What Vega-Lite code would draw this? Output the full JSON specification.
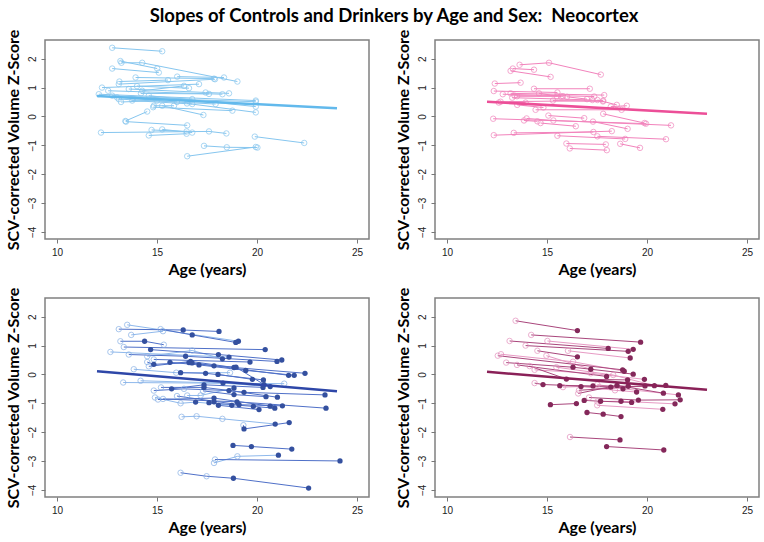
{
"$schema":"https://vega.github.io/schema/vega-lite/v6.json",
"background":"white",
"padding":{"left":4,"top":6,"right":8,"bottom":4},
"title":{"text":"Slopes of Controls and Drinkers by Age and Sex:\u00a0 Neocortex","font":"Lato","fontSize":18.5,"fontWeight":"bold","color":"black","anchor":"middle","offset":3,"dx":12},
"config":{
 "view":{"stroke":"#808080","strokeWidth":1.5},
 "axis":{"domain":false,"grid":false,"tickColor":"#777","tickSize":4,"labelFont":"Liberation Sans","labelFontSize":10,"labelColor":"#222","titleFont":"Lato","titleFontSize":16,"titleFontWeight":"bold","titleColor":"black"},
 "axisY":{"labelAngle":-90,"labelAlign":"center","labelBaseline":"bottom","labelPadding":4,"titlePadding":6},
 "axisX":{"labelPadding":4,"titlePadding":4}
},
"datasets":{
"reg":[
{"p":1,"age":12,"z":0.71},{"p":1,"age":24,"z":0.28},
{"p":2,"age":12,"z":0.51},{"p":2,"age":23,"z":0.09},
{"p":3,"age":12,"z":0.11},{"p":3,"age":24,"z":-0.58},
{"p":4,"age":12,"z":0.09},{"p":4,"age":23,"z":-0.53}
],
"pts":[
{"p":1,"id":"a1","g":"L","ph":"o","age":12.76,"z":2.38},{"p":1,"id":"a1","g":"L","ph":"o","age":15.26,"z":2.26},
{"p":1,"id":"a2","g":"L","ph":"o","age":13.17,"z":1.92},{"p":1,"id":"a2","g":"L","ph":"o","age":15.01,"z":1.66},
{"p":1,"id":"a3","g":"L","ph":"o","age":13.22,"z":1.86},{"p":1,"id":"a3","g":"L","ph":"o","age":14.26,"z":1.86},{"p":1,"id":"a3","g":"L","ph":"o","age":19.02,"z":1.21},
{"p":1,"id":"a4","g":"L","ph":"o","age":12.76,"z":1.66},{"p":1,"id":"a4","g":"L","ph":"o","age":15.09,"z":1.52},
{"p":1,"id":"a5","g":"L","ph":"o","age":13.93,"z":1.35},{"p":1,"id":"a5","g":"L","ph":"o","age":17.85,"z":1.31},
{"p":1,"id":"a6","g":"L","ph":"o","age":16.01,"z":1.38},{"p":1,"id":"a6","g":"L","ph":"o","age":18.35,"z":1.35},
{"p":1,"id":"a7","g":"L","ph":"o","age":13.12,"z":1.21},{"p":1,"id":"a7","g":"L","ph":"o","age":15.55,"z":1.26},
{"p":1,"id":"a8","g":"L","ph":"o","age":12.25,"z":1.0},{"p":1,"id":"a8","g":"L","ph":"o","age":17.1,"z":1.12},
{"p":1,"id":"a9","g":"L","ph":"o","age":13.09,"z":1.12},{"p":1,"id":"a9","g":"L","ph":"o","age":17.9,"z":1.29},
{"p":1,"id":"a10","g":"L","ph":"o","age":13.59,"z":0.95},{"p":1,"id":"a10","g":"L","ph":"o","age":17.43,"z":0.83},{"p":1,"id":"a10","g":"L","ph":"o","age":18.6,"z":0.8},
{"p":1,"id":"a11","g":"L","ph":"o","age":12.09,"z":0.77},{"p":1,"id":"a11","g":"L","ph":"o","age":19.94,"z":0.55},
{"p":1,"id":"a12","g":"L","ph":"o","age":12.56,"z":0.89},{"p":1,"id":"a12","g":"L","ph":"o","age":18.27,"z":0.77},
{"p":1,"id":"a13","g":"L","ph":"o","age":12.76,"z":0.72},{"p":1,"id":"a13","g":"L","ph":"o","age":16.76,"z":0.6},
{"p":1,"id":"a14","g":"L","ph":"o","age":13.0,"z":0.66},{"p":1,"id":"a14","g":"L","ph":"o","age":19.94,"z":0.51},
{"p":1,"id":"a15","g":"L","ph":"o","age":13.09,"z":0.6},{"p":1,"id":"a15","g":"L","ph":"o","age":17.93,"z":0.43},
{"p":1,"id":"a16","g":"L","ph":"o","age":13.76,"z":0.55},{"p":1,"id":"a16","g":"L","ph":"o","age":16.76,"z":0.43},
{"p":1,"id":"a17","g":"L","ph":"o","age":14.84,"z":0.37},{"p":1,"id":"a17","g":"L","ph":"o","age":15.85,"z":0.37},
{"p":1,"id":"a18","g":"L","ph":"o","age":14.81,"z":0.32},{"p":1,"id":"a18","g":"L","ph":"o","age":18.77,"z":0.2},
{"p":1,"id":"a19","g":"L","ph":"o","age":14.26,"z":0.89},{"p":1,"id":"a19","g":"L","ph":"o","age":16.35,"z":1.06},
{"p":1,"id":"a20","g":"L","ph":"o","age":14.59,"z":0.72},{"p":1,"id":"a20","g":"L","ph":"o","age":19.94,"z":0.34},
{"p":1,"id":"a21","g":"L","ph":"o","age":16.5,"z":0.45},{"p":1,"id":"a21","g":"L","ph":"o","age":19.94,"z":0.14},
{"p":1,"id":"a22","g":"L","ph":"o","age":13.42,"z":-0.16},{"p":1,"id":"a22","g":"L","ph":"o","age":14.51,"z":0.17},
{"p":1,"id":"a23","g":"L","ph":"o","age":13.45,"z":-0.18},{"p":1,"id":"a23","g":"L","ph":"o","age":16.51,"z":-0.31},
{"p":1,"id":"a24","g":"L","ph":"o","age":15.26,"z":0.37},{"p":1,"id":"a24","g":"L","ph":"o","age":17.32,"z":0.05},
{"p":1,"id":"a25","g":"L","ph":"o","age":12.2,"z":-0.56},{"p":1,"id":"a25","g":"L","ph":"o","age":17.6,"z":-0.52},{"p":1,"id":"a25","g":"L","ph":"o","age":18.47,"z":-0.59},
{"p":1,"id":"a26","g":"L","ph":"o","age":14.73,"z":-0.47},{"p":1,"id":"a26","g":"L","ph":"o","age":16.48,"z":-0.52},
{"p":1,"id":"a27","g":"L","ph":"o","age":15.26,"z":-0.45},{"p":1,"id":"a27","g":"L","ph":"o","age":16.76,"z":-0.56},
{"p":1,"id":"a28","g":"L","ph":"o","age":14.59,"z":-0.66},{"p":1,"id":"a28","g":"L","ph":"o","age":16.48,"z":-0.6},
{"p":1,"id":"a29","g":"L","ph":"o","age":19.89,"z":-0.7},{"p":1,"id":"a29","g":"L","ph":"o","age":22.36,"z":-0.92},
{"p":1,"id":"a30","g":"L","ph":"o","age":17.35,"z":-1.02},{"p":1,"id":"a30","g":"L","ph":"o","age":18.49,"z":-1.07},{"p":1,"id":"a30","g":"L","ph":"o","age":20.02,"z":-1.08},
{"p":1,"id":"a31","g":"L","ph":"o","age":16.51,"z":-1.38},{"p":1,"id":"a31","g":"L","ph":"o","age":19.94,"z":-1.06},
{"p":1,"id":"a32","g":"L","ph":"o","age":13.2,"z":0.5},{"p":1,"id":"a32","g":"L","ph":"o","age":15.0,"z":0.55},
{"p":1,"id":"a33","g":"L","ph":"o","age":13.8,"z":0.62},{"p":1,"id":"a33","g":"L","ph":"o","age":16.0,"z":0.5},
{"p":1,"id":"a34","g":"L","ph":"o","age":14.0,"z":1.05},{"p":1,"id":"a34","g":"L","ph":"o","age":16.6,"z":0.98},
{"p":1,"id":"a35","g":"L","ph":"o","age":14.2,"z":0.8},{"p":1,"id":"a35","g":"L","ph":"o","age":17.6,"z":0.78},
{"p":2,"id":"b1","g":"L","ph":"o","age":13.63,"z":1.79},{"p":2,"id":"b1","g":"L","ph":"o","age":15.1,"z":1.86},{"p":2,"id":"b1","g":"L","ph":"o","age":17.69,"z":1.45},
{"p":2,"id":"b2","g":"L","ph":"o","age":13.29,"z":1.66},{"p":2,"id":"b2","g":"L","ph":"o","age":14.35,"z":1.62},
{"p":2,"id":"b3","g":"L","ph":"o","age":13.18,"z":1.58},{"p":2,"id":"b3","g":"L","ph":"o","age":15.18,"z":1.37},
{"p":2,"id":"b4","g":"L","ph":"o","age":12.39,"z":1.14},{"p":2,"id":"b4","g":"L","ph":"o","age":13.68,"z":1.17},
{"p":2,"id":"b5","g":"L","ph":"o","age":14.35,"z":0.96},{"p":2,"id":"b5","g":"L","ph":"o","age":17.14,"z":0.96},
{"p":2,"id":"b6","g":"L","ph":"o","age":12.34,"z":0.88},{"p":2,"id":"b6","g":"L","ph":"o","age":15.52,"z":0.83},
{"p":2,"id":"b7","g":"L","ph":"o","age":13.18,"z":0.8},{"p":2,"id":"b7","g":"L","ph":"o","age":17.86,"z":0.74},
{"p":2,"id":"b8","g":"L","ph":"o","age":12.79,"z":0.77},{"p":2,"id":"b8","g":"L","ph":"o","age":17.36,"z":0.69},
{"p":2,"id":"b9","g":"L","ph":"o","age":13.38,"z":0.72},{"p":2,"id":"b9","g":"L","ph":"o","age":15.8,"z":0.7},
{"p":2,"id":"b10","g":"L","ph":"o","age":14.6,"z":0.8},{"p":2,"id":"b10","g":"L","ph":"o","age":15.7,"z":0.69},
{"p":2,"id":"b11","g":"L","ph":"o","age":13.5,"z":0.7},{"p":2,"id":"b11","g":"L","ph":"o","age":15.5,"z":0.7},
{"p":2,"id":"b12","g":"L","ph":"o","age":13.26,"z":0.65},{"p":2,"id":"b12","g":"L","ph":"o","age":17.27,"z":0.57},
{"p":2,"id":"b13","g":"L","ph":"o","age":12.68,"z":0.51},{"p":2,"id":"b13","g":"L","ph":"o","age":17.81,"z":0.55},
{"p":2,"id":"b14","g":"L","ph":"o","age":12.59,"z":0.48},{"p":2,"id":"b14","g":"L","ph":"o","age":13.93,"z":0.48},
{"p":2,"id":"b15","g":"L","ph":"o","age":13.51,"z":0.4},{"p":2,"id":"b15","g":"L","ph":"o","age":14.82,"z":0.31},
{"p":2,"id":"b16","g":"L","ph":"o","age":17.52,"z":0.57},{"p":2,"id":"b16","g":"L","ph":"o","age":18.49,"z":0.4},
{"p":2,"id":"b17","g":"L","ph":"o","age":15.3,"z":0.55},{"p":2,"id":"b17","g":"L","ph":"o","age":17.8,"z":0.52},
{"p":2,"id":"b18","g":"L","ph":"o","age":18.19,"z":0.34},{"p":2,"id":"b18","g":"L","ph":"o","age":18.99,"z":0.37},
{"p":2,"id":"b19","g":"L","ph":"o","age":14.43,"z":0.23},{"p":2,"id":"b19","g":"L","ph":"o","age":18.73,"z":0.23},
{"p":2,"id":"b20","g":"L","ph":"o","age":15.07,"z":0.03},{"p":2,"id":"b20","g":"L","ph":"o","age":16.86,"z":-0.06},
{"p":2,"id":"b21","g":"L","ph":"o","age":17.81,"z":0.09},{"p":2,"id":"b21","g":"L","ph":"o","age":19.87,"z":-0.23},
{"p":2,"id":"b22","g":"L","ph":"o","age":12.31,"z":-0.08},{"p":2,"id":"b22","g":"L","ph":"o","age":19.95,"z":-0.25},
{"p":2,"id":"b23","g":"L","ph":"o","age":13.98,"z":-0.07},{"p":2,"id":"b23","g":"L","ph":"o","age":15.32,"z":-0.14},{"p":2,"id":"b23","g":"L","ph":"o","age":21.2,"z":-0.31},
{"p":2,"id":"b24","g":"L","ph":"o","age":13.85,"z":-0.14},{"p":2,"id":"b24","g":"L","ph":"o","age":14.52,"z":-0.17},
{"p":2,"id":"b25","g":"L","ph":"o","age":14.68,"z":-0.23},{"p":2,"id":"b25","g":"L","ph":"o","age":16.44,"z":-0.34},
{"p":2,"id":"b26","g":"L","ph":"o","age":17.3,"z":-0.18},{"p":2,"id":"b26","g":"L","ph":"o","age":19.03,"z":-0.43},
{"p":2,"id":"b27","g":"L","ph":"o","age":12.34,"z":-0.65},{"p":2,"id":"b27","g":"L","ph":"o","age":18.24,"z":-0.51},
{"p":2,"id":"b28","g":"L","ph":"o","age":13.34,"z":-0.57},{"p":2,"id":"b28","g":"L","ph":"o","age":17.32,"z":-0.54},
{"p":2,"id":"b29","g":"L","ph":"o","age":15.52,"z":-0.67},{"p":2,"id":"b29","g":"L","ph":"o","age":18.91,"z":-0.78},
{"p":2,"id":"b30","g":"L","ph":"o","age":17.52,"z":-0.69},{"p":2,"id":"b30","g":"L","ph":"o","age":20.95,"z":-0.79},
{"p":2,"id":"b31","g":"L","ph":"o","age":15.97,"z":-0.94},{"p":2,"id":"b31","g":"L","ph":"o","age":17.94,"z":-0.97},
{"p":2,"id":"b32","g":"L","ph":"o","age":18.66,"z":-0.95},{"p":2,"id":"b32","g":"L","ph":"o","age":19.65,"z":-1.09},
{"p":2,"id":"b33","g":"L","ph":"o","age":16.14,"z":-1.11},{"p":2,"id":"b33","g":"L","ph":"o","age":17.99,"z":-1.17},
{"p":2,"id":"b34","g":"L","ph":"o","age":16.0,"z":0.68},{"p":2,"id":"b34","g":"L","ph":"o","age":17.0,"z":0.6},
{"p":3,"id":"c1","g":"D","ph":"o","age":13.09,"z":1.57},{"p":3,"id":"c1","g":"D","ph":"f","age":16.31,"z":1.54},{"p":3,"id":"c1","g":"D","ph":"f","age":18.1,"z":1.49},
{"p":3,"id":"c2","g":"L","ph":"o","age":13.51,"z":1.72},{"p":3,"id":"c2","g":"L","ph":"f","age":19.07,"z":1.15},
{"p":3,"id":"c3","g":"D","ph":"o","age":15.18,"z":1.57},{"p":3,"id":"c3","g":"D","ph":"f","age":16.76,"z":1.37},{"p":3,"id":"c3","g":"D","ph":"f","age":18.94,"z":1.11},
{"p":3,"id":"c4","g":"L","ph":"o","age":13.71,"z":1.37},{"p":3,"id":"c4","g":"L","ph":"o","age":15.3,"z":1.5},
{"p":3,"id":"c5","g":"D","ph":"o","age":13.17,"z":1.15},{"p":3,"id":"c5","g":"D","ph":"f","age":14.38,"z":1.15},{"p":3,"id":"c5","g":"D","ph":"o","age":15.34,"z":1.03},
{"p":3,"id":"c6","g":"D","ph":"o","age":13.34,"z":0.95},{"p":3,"id":"c6","g":"D","ph":"f","age":20.41,"z":0.86},
{"p":3,"id":"c7","g":"D","ph":"f","age":14.68,"z":0.86},{"p":3,"id":"c7","g":"D","ph":"f","age":18.07,"z":0.69},{"p":3,"id":"c7","g":"D","ph":"f","age":21.24,"z":0.5},
{"p":3,"id":"c8","g":"L","ph":"o","age":12.67,"z":0.78},{"p":3,"id":"c8","g":"L","ph":"f","age":18.6,"z":0.6},
{"p":3,"id":"c9","g":"D","ph":"o","age":13.59,"z":0.69},{"p":3,"id":"c9","g":"D","ph":"f","age":16.43,"z":0.63},{"p":3,"id":"c9","g":"D","ph":"f","age":21.0,"z":0.45},
{"p":3,"id":"c10","g":"L","ph":"o","age":14.51,"z":0.63},{"p":3,"id":"c10","g":"L","ph":"o","age":16.76,"z":0.83},{"p":3,"id":"c10","g":"L","ph":"f","age":18.27,"z":0.54},
{"p":3,"id":"c11","g":"D","ph":"o","age":14.84,"z":0.52},{"p":3,"id":"c11","g":"D","ph":"f","age":19.65,"z":0.43},
{"p":3,"id":"c12","g":"D","ph":"o","age":14.51,"z":0.43},{"p":3,"id":"c12","g":"D","ph":"f","age":14.84,"z":0.35},{"p":3,"id":"c12","g":"D","ph":"f","age":16.6,"z":0.41},{"p":3,"id":"c12","g":"D","ph":"f","age":21.58,"z":-0.03},
{"p":3,"id":"c13","g":"D","ph":"o","age":14.59,"z":0.28},{"p":3,"id":"c13","g":"D","ph":"f","age":16.68,"z":0.45},{"p":3,"id":"c13","g":"D","ph":"f","age":18.85,"z":0.24},{"p":3,"id":"c13","g":"D","ph":"f","age":22.4,"z":0.04},
{"p":3,"id":"c14","g":"D","ph":"f","age":15.65,"z":0.42},{"p":3,"id":"c14","g":"D","ph":"f","age":17.1,"z":0.33},{"p":3,"id":"c14","g":"D","ph":"f","age":19.44,"z":0.14},{"p":3,"id":"c14","g":"D","ph":"f","age":21.86,"z":-0.03},
{"p":3,"id":"c15","g":"D","ph":"f","age":16.75,"z":0.4},{"p":3,"id":"c15","g":"D","ph":"f","age":17.85,"z":0.3},{"p":3,"id":"c15","g":"D","ph":"f","age":18.95,"z":0.25},{"p":3,"id":"c15","g":"D","ph":"f","age":20.35,"z":-0.35},
{"p":3,"id":"c16","g":"L","ph":"o","age":13.84,"z":0.18},{"p":3,"id":"c16","g":"L","ph":"o","age":15.96,"z":0.06},{"p":3,"id":"c16","g":"L","ph":"o","age":18.65,"z":0.06},
{"p":3,"id":"c17","g":"D","ph":"f","age":16.18,"z":0.06},{"p":3,"id":"c17","g":"D","ph":"f","age":17.43,"z":0.04},{"p":3,"id":"c17","g":"D","ph":"f","age":20.32,"z":-0.19},
{"p":3,"id":"c18","g":"D","ph":"f","age":18.05,"z":0.0},{"p":3,"id":"c18","g":"D","ph":"f","age":19.77,"z":-0.17},
{"p":3,"id":"c19","g":"L","ph":"o","age":13.31,"z":-0.28},{"p":3,"id":"c19","g":"L","ph":"o","age":21.36,"z":-0.32},
{"p":3,"id":"c20","g":"L","ph":"o","age":14.18,"z":-0.22},{"p":3,"id":"c20","g":"L","ph":"f","age":18.3,"z":-0.3},{"p":3,"id":"c20","g":"L","ph":"f","age":20.66,"z":-0.42},
{"p":3,"id":"c21","g":"D","ph":"f","age":15.73,"z":-0.5},{"p":3,"id":"c21","g":"D","ph":"f","age":17.35,"z":-0.36},{"p":3,"id":"c21","g":"D","ph":"f","age":20.3,"z":-0.45},
{"p":3,"id":"c22","g":"D","ph":"o","age":14.84,"z":-0.56},{"p":3,"id":"c22","g":"D","ph":"o","age":16.35,"z":-0.5},{"p":3,"id":"c22","g":"D","ph":"f","age":18.6,"z":-0.56},{"p":3,"id":"c22","g":"D","ph":"f","age":21.02,"z":-0.79},
{"p":3,"id":"c23","g":"D","ph":"o","age":15.2,"z":-0.45},{"p":3,"id":"c23","g":"D","ph":"f","age":17.35,"z":-0.45},{"p":3,"id":"c23","g":"D","ph":"f","age":19.35,"z":-0.62},{"p":3,"id":"c23","g":"D","ph":"f","age":23.4,"z":-0.71},
{"p":3,"id":"c24","g":"L","ph":"o","age":16.51,"z":-0.73},{"p":3,"id":"c24","g":"L","ph":"o","age":17.18,"z":-0.73},{"p":3,"id":"c24","g":"L","ph":"f","age":18.85,"z":-0.47},
{"p":3,"id":"c25","g":"D","ph":"o","age":17.3,"z":-0.57},{"p":3,"id":"c25","g":"D","ph":"f","age":18.85,"z":-0.7},{"p":3,"id":"c25","g":"D","ph":"f","age":20.45,"z":-0.77},
{"p":3,"id":"c26","g":"L","ph":"o","age":14.9,"z":-0.8},{"p":3,"id":"c26","g":"L","ph":"o","age":16.18,"z":-1.0},{"p":3,"id":"c26","g":"L","ph":"f","age":16.93,"z":-0.96},{"p":3,"id":"c26","g":"L","ph":"f","age":18.74,"z":-1.07},
{"p":3,"id":"c27","g":"D","ph":"o","age":15.05,"z":-0.87},{"p":3,"id":"c27","g":"D","ph":"f","age":17.85,"z":-0.82},{"p":3,"id":"c27","g":"D","ph":"f","age":20.66,"z":-1.1},
{"p":3,"id":"c28","g":"D","ph":"f","age":17.85,"z":-0.95},{"p":3,"id":"c28","g":"D","ph":"f","age":18.07,"z":-1.07},{"p":3,"id":"c28","g":"D","ph":"f","age":20.1,"z":-1.22},
{"p":3,"id":"c29","g":"D","ph":"o","age":16.0,"z":-0.75},{"p":3,"id":"c29","g":"D","ph":"f","age":19.1,"z":-1.05},{"p":3,"id":"c29","g":"D","ph":"f","age":21.27,"z":-1.09},
{"p":3,"id":"c30","g":"D","ph":"f","age":17.6,"z":-0.98},{"p":3,"id":"c30","g":"D","ph":"f","age":19.82,"z":-1.11},{"p":3,"id":"c30","g":"D","ph":"f","age":20.89,"z":-1.17},
{"p":3,"id":"c31","g":"D","ph":"o","age":15.3,"z":-0.85},{"p":3,"id":"c31","g":"D","ph":"f","age":19.0,"z":-0.95},{"p":3,"id":"c31","g":"D","ph":"f","age":23.45,"z":-1.17},
{"p":3,"id":"c32","g":"L","ph":"o","age":16.23,"z":-1.47},{"p":3,"id":"c32","g":"L","ph":"o","age":16.98,"z":-1.45},{"p":3,"id":"c32","g":"L","ph":"o","age":18.27,"z":-1.54},{"p":3,"id":"c32","g":"L","ph":"f","age":20.91,"z":-1.72},
{"p":3,"id":"c33","g":"D","ph":"o","age":19.32,"z":-1.76},{"p":3,"id":"c33","g":"D","ph":"f","age":19.35,"z":-1.89},{"p":3,"id":"c33","g":"D","ph":"f","age":21.61,"z":-1.67},
{"p":3,"id":"c34","g":"D","ph":"f","age":18.8,"z":-2.46},{"p":3,"id":"c34","g":"D","ph":"f","age":19.72,"z":-2.5},{"p":3,"id":"c34","g":"D","ph":"f","age":21.74,"z":-2.59},
{"p":3,"id":"c35","g":"L","ph":"o","age":17.85,"z":-3.07},{"p":3,"id":"c35","g":"L","ph":"o","age":19.02,"z":-2.84},{"p":3,"id":"c35","g":"L","ph":"f","age":21.07,"z":-2.8},
{"p":3,"id":"c36","g":"D","ph":"o","age":17.9,"z":-2.95},{"p":3,"id":"c36","g":"D","ph":"f","age":24.15,"z":-3.0},
{"p":3,"id":"c37","g":"D","ph":"o","age":16.18,"z":-3.41},{"p":3,"id":"c37","g":"D","ph":"o","age":17.48,"z":-3.53},{"p":3,"id":"c37","g":"D","ph":"f","age":18.82,"z":-3.6},{"p":3,"id":"c37","g":"D","ph":"f","age":22.58,"z":-3.94},
{"p":4,"id":"d1","g":"D","ph":"o","age":13.43,"z":1.86},{"p":4,"id":"d1","g":"D","ph":"f","age":16.52,"z":1.52},
{"p":4,"id":"d2","g":"D","ph":"o","age":14.21,"z":1.37},{"p":4,"id":"d2","g":"D","ph":"f","age":19.68,"z":1.12},
{"p":4,"id":"d3","g":"D","ph":"o","age":13.13,"z":1.16},{"p":4,"id":"d3","g":"D","ph":"f","age":18.06,"z":0.9},
{"p":4,"id":"d4","g":"L","ph":"o","age":15.02,"z":1.16},{"p":4,"id":"d4","g":"L","ph":"f","age":19.31,"z":0.87},
{"p":4,"id":"d5","g":"D","ph":"o","age":13.93,"z":1.0},{"p":4,"id":"d5","g":"D","ph":"f","age":19.06,"z":0.8},
{"p":4,"id":"d6","g":"D","ph":"o","age":14.52,"z":0.82},{"p":4,"id":"d6","g":"D","ph":"f","age":16.52,"z":0.61},
{"p":4,"id":"d7","g":"L","ph":"o","age":16.05,"z":0.82},{"p":4,"id":"d7","g":"L","ph":"f","age":19.16,"z":0.57},
{"p":4,"id":"d8","g":"D","ph":"o","age":12.54,"z":0.65},{"p":4,"id":"d8","g":"D","ph":"f","age":18.78,"z":0.16},
{"p":4,"id":"d9","g":"L","ph":"o","age":12.7,"z":0.7},{"p":4,"id":"d9","g":"L","ph":"o","age":16.3,"z":0.44},{"p":4,"id":"d9","g":"L","ph":"f","age":18.86,"z":0.11},
{"p":4,"id":"d10","g":"L","ph":"o","age":14.97,"z":0.65},{"p":4,"id":"d10","g":"L","ph":"f","age":17.19,"z":0.18},
{"p":4,"id":"d11","g":"D","ph":"o","age":12.96,"z":0.41},{"p":4,"id":"d11","g":"D","ph":"f","age":16.3,"z":0.25},{"p":4,"id":"d11","g":"D","ph":"f","age":19.31,"z":0.01},
{"p":4,"id":"d12","g":"D","ph":"o","age":13.5,"z":0.33},{"p":4,"id":"d12","g":"D","ph":"f","age":17.98,"z":-0.07},
{"p":4,"id":"d13","g":"L","ph":"o","age":14.38,"z":0.16},{"p":4,"id":"d13","g":"L","ph":"o","age":17.19,"z":0.04},{"p":4,"id":"d13","g":"L","ph":"f","age":19.87,"z":-0.17},
{"p":4,"id":"d14","g":"L","ph":"o","age":15.47,"z":0.25},{"p":4,"id":"d14","g":"L","ph":"o","age":18.31,"z":-0.02},{"p":4,"id":"d14","g":"L","ph":"f","age":20.37,"z":-0.39},
{"p":4,"id":"d15","g":"D","ph":"o","age":14.13,"z":0.29},{"p":4,"id":"d15","g":"D","ph":"f","age":15.97,"z":-0.16},{"p":4,"id":"d15","g":"D","ph":"f","age":19.03,"z":-0.19},
{"p":4,"id":"d16","g":"D","ph":"o","age":14.38,"z":-0.3},{"p":4,"id":"d16","g":"D","ph":"f","age":14.8,"z":-0.35},{"p":4,"id":"d16","g":"D","ph":"f","age":18.19,"z":-0.44},{"p":4,"id":"d16","g":"D","ph":"f","age":20.94,"z":-0.38},
{"p":4,"id":"d17","g":"D","ph":"f","age":15.64,"z":-0.39},{"p":4,"id":"d17","g":"D","ph":"f","age":17.3,"z":-0.4},{"p":4,"id":"d17","g":"D","ph":"f","age":19.06,"z":-0.41},
{"p":4,"id":"d18","g":"L","ph":"o","age":15.8,"z":-0.44},{"p":4,"id":"d18","g":"L","ph":"f","age":16.7,"z":-0.42},{"p":4,"id":"d18","g":"L","ph":"o","age":18.4,"z":-0.55},{"p":4,"id":"d18","g":"L","ph":"f","age":19.48,"z":-0.61},
{"p":4,"id":"d19","g":"D","ph":"o","age":16.56,"z":-0.66},{"p":4,"id":"d19","g":"D","ph":"f","age":18.5,"z":-0.38},{"p":4,"id":"d19","g":"D","ph":"f","age":20.82,"z":-0.65},
{"p":4,"id":"d20","g":"L","ph":"o","age":17.52,"z":-0.35},{"p":4,"id":"d20","g":"L","ph":"f","age":18.8,"z":-0.5},{"p":4,"id":"d20","g":"L","ph":"f","age":21.57,"z":-0.71},
{"p":4,"id":"d21","g":"D","ph":"f","age":16.86,"z":-0.9},{"p":4,"id":"d21","g":"D","ph":"f","age":17.68,"z":-0.93},{"p":4,"id":"d21","g":"D","ph":"f","age":19.23,"z":-0.97},
{"p":4,"id":"d22","g":"L","ph":"o","age":17.52,"z":-0.94},{"p":4,"id":"d22","g":"L","ph":"f","age":18.7,"z":-0.93},{"p":4,"id":"d22","g":"L","ph":"f","age":21.4,"z":-1.02},
{"p":4,"id":"d23","g":"D","ph":"o","age":17.1,"z":-0.8},{"p":4,"id":"d23","g":"D","ph":"f","age":19.57,"z":-0.89},{"p":4,"id":"d23","g":"D","ph":"f","age":21.66,"z":-0.88},
{"p":4,"id":"d24","g":"D","ph":"f","age":15.17,"z":-1.05},{"p":4,"id":"d24","g":"D","ph":"f","age":16.47,"z":-1.01},
{"p":4,"id":"d25","g":"L","ph":"o","age":17.51,"z":-1.07},{"p":4,"id":"d25","g":"L","ph":"f","age":20.79,"z":-1.21},
{"p":4,"id":"d26","g":"D","ph":"f","age":17.0,"z":-1.32},{"p":4,"id":"d26","g":"D","ph":"f","age":17.81,"z":-1.38},{"p":4,"id":"d26","g":"D","ph":"f","age":18.7,"z":-1.46},
{"p":4,"id":"d27","g":"D","ph":"o","age":16.15,"z":-2.17},{"p":4,"id":"d27","g":"D","ph":"f","age":18.65,"z":-2.27},
{"p":4,"id":"d28","g":"D","ph":"f","age":17.98,"z":-2.5},{"p":4,"id":"d28","g":"D","ph":"f","age":20.84,"z":-2.62},
{"p":4,"id":"d29","g":"D","ph":"o","age":16.6,"z":-0.55},{"p":4,"id":"d29","g":"D","ph":"f","age":19.9,"z":-0.4}
]},
"columns":2,
"spacing":{"row":59,"column":66},
"bounds":"flush",
"concat":[
{"width":324,"height":199,
 "encoding":{
  "x":{"field":"age","type":"quantitative","scale":{"domain":[9.4,25.6],"nice":false,"zero":false},"axis":{"values":[10,15,20,25],"title":"Age (years)"}},
  "y":{"field":"z","type":"quantitative","scale":{"domain":[-4.25,2.65],"nice":false,"zero":false},"axis":{"values":[-4,-3,-2,-1,0,1,2],"title":"SCV-corrected Volume Z-Score"}}},
 "layer":[
  {"data":{"name":"pts"},"transform":[{"filter":"datum.p==1"}],"mark":{"type":"line","strokeWidth":1,"color":"#86c6ef"},"encoding":{"detail":{"field":"id"},"order":{"field":"age","type":"quantitative"}}},
  {"data":{"name":"pts"},"transform":[{"filter":"datum.p==1"}],"mark":{"type":"point","shape":"circle","filled":false,"size":30,"strokeWidth":1,"color":"#86c6ef"},"encoding":{}},
  {"data":{"name":"reg"},"transform":[{"filter":"datum.p==1"}],"mark":{"type":"line","strokeWidth":2.5,"color":"#62b9ec"},"encoding":{}}
 ]},
{"width":324,"height":199,
 "encoding":{
  "x":{"field":"age","type":"quantitative","scale":{"domain":[9.4,25.6],"nice":false,"zero":false},"axis":{"values":[10,15,20,25],"title":"Age (years)"}},
  "y":{"field":"z","type":"quantitative","scale":{"domain":[-4.25,2.65],"nice":false,"zero":false},"axis":{"values":[-4,-3,-2,-1,0,1,2],"title":"SCV-corrected Volume Z-Score"}}},
 "layer":[
  {"data":{"name":"pts"},"transform":[{"filter":"datum.p==2"}],"mark":{"type":"line","strokeWidth":1,"color":"#f283bc"},"encoding":{"detail":{"field":"id"},"order":{"field":"age","type":"quantitative"}}},
  {"data":{"name":"pts"},"transform":[{"filter":"datum.p==2"}],"mark":{"type":"point","shape":"circle","filled":false,"size":30,"strokeWidth":1,"color":"#f283bc"},"encoding":{}},
  {"data":{"name":"reg"},"transform":[{"filter":"datum.p==2"}],"mark":{"type":"line","strokeWidth":2.5,"color":"#ec4f98"},"encoding":{}}
 ]},
{"width":324,"height":199,
 "encoding":{
  "x":{"field":"age","type":"quantitative","scale":{"domain":[9.4,25.6],"nice":false,"zero":false},"axis":{"values":[10,15,20,25],"title":"Age (years)"}},
  "y":{"field":"z","type":"quantitative","scale":{"domain":[-4.25,2.65],"nice":false,"zero":false},"axis":{"values":[-4,-3,-2,-1,0,1,2],"title":"SCV-corrected Volume Z-Score"}}},
 "layer":[
  {"data":{"name":"pts"},"transform":[{"filter":"datum.p==3 && datum.g=='L'"}],"mark":{"type":"line","strokeWidth":1,"color":"#8fb9ec"},"encoding":{"detail":{"field":"id"},"order":{"field":"age","type":"quantitative"}}},
  {"data":{"name":"pts"},"transform":[{"filter":"datum.p==3 && datum.g=='D'"}],"mark":{"type":"line","strokeWidth":1,"color":"#4f70c8"},"encoding":{"detail":{"field":"id"},"order":{"field":"age","type":"quantitative"}}},
  {"data":{"name":"pts"},"transform":[{"filter":"datum.p==3 && datum.ph=='o'"}],"mark":{"type":"point","shape":"circle","filled":false,"size":30,"strokeWidth":1,"color":"#86b0e6"},"encoding":{}},
  {"data":{"name":"pts"},"transform":[{"filter":"datum.p==3 && datum.ph=='f'"}],"mark":{"type":"circle","size":28,"opacity":1,"color":"#34509f"},"encoding":{}},
  {"data":{"name":"reg"},"transform":[{"filter":"datum.p==3"}],"mark":{"type":"line","strokeWidth":2.5,"color":"#2e47a8"},"encoding":{}}
 ]},
{"width":324,"height":199,
 "encoding":{
  "x":{"field":"age","type":"quantitative","scale":{"domain":[9.4,25.6],"nice":false,"zero":false},"axis":{"values":[10,15,20,25],"title":"Age (years)"}},
  "y":{"field":"z","type":"quantitative","scale":{"domain":[-4.25,2.65],"nice":false,"zero":false},"axis":{"values":[-4,-3,-2,-1,0,1,2],"title":"SCV-corrected Volume Z-Score"}}},
 "layer":[
  {"data":{"name":"pts"},"transform":[{"filter":"datum.p==4 && datum.g=='L'"}],"mark":{"type":"line","strokeWidth":1,"color":"#e79ac4"},"encoding":{"detail":{"field":"id"},"order":{"field":"age","type":"quantitative"}}},
  {"data":{"name":"pts"},"transform":[{"filter":"datum.p==4 && datum.g=='D'"}],"mark":{"type":"line","strokeWidth":1,"color":"#a9467c"},"encoding":{"detail":{"field":"id"},"order":{"field":"age","type":"quantitative"}}},
  {"data":{"name":"pts"},"transform":[{"filter":"datum.p==4 && datum.ph=='o'"}],"mark":{"type":"point","shape":"circle","filled":false,"size":30,"strokeWidth":1,"color":"#e58fbd"},"encoding":{}},
  {"data":{"name":"pts"},"transform":[{"filter":"datum.p==4 && datum.ph=='f'"}],"mark":{"type":"circle","size":28,"opacity":1,"color":"#84285a"},"encoding":{}},
  {"data":{"name":"reg"},"transform":[{"filter":"datum.p==4"}],"mark":{"type":"line","strokeWidth":2.5,"color":"#8a2158"},"encoding":{}}
 ]}
]
}
